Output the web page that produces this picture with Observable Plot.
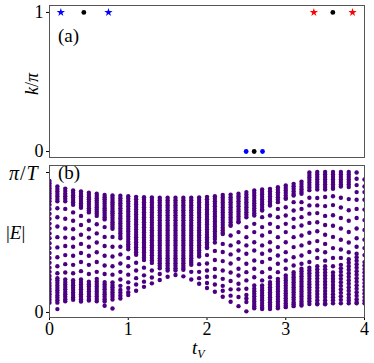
<!DOCTYPE html>
<html><head><meta charset="utf-8">
<script src="https://cdn.jsdelivr.net/npm/d3@7"></script>
<script src="https://cdn.jsdelivr.net/npm/@observablehq/plot@0.6"></script>
<style>
body{margin:0;background:#fff;}
#wrap{position:relative;width:374px;height:363px;font-family:"Liberation Serif",serif;color:#000;}
#wrap svg{position:absolute;left:0;}
#wrap svg text{font-family:"Liberation Serif",serif !important;font-size:18px;}
.lab{position:absolute;white-space:nowrap;line-height:1;font-family:"Liberation Serif",serif;}
.it{font-style:italic;}
</style></head><body><div id="wrap"></div>
<script>
// ---- panel (a): momentum k/pi of special points ----
const starT = [0.144, 0.749, 3.357, 3.848];
const starK = [1, 1, 1, 1];
const starColor = ["#0000ff", "#0000ff", "#ff0000", "#ff0000"];
const dotT = [0.436, 3.598, 2.497, 2.599, 2.705];
const dotK = [1, 1, 0, 0, 0];
const dotColor = ["#000000", "#000000", "#0000ff", "#000000", "#0000ff"];

// ---- panel (b): |E| (units of pi/T) for each t_V column ----
const tV = [0,0.1,0.2,0.3,0.4,0.5,0.6,0.7,0.8,0.9,1.0,1.1,1.2,1.3,1.4,1.5,1.6,1.7,1.8,1.9,2.0,2.1,2.2,2.3,2.4,2.5,2.6,2.7,2.8,2.9,3.0,3.1,3.2,3.3,3.4,3.5,3.6,3.7,3.8,3.9,4.0];
const E00 = [0.94,0.922,0.904,0.886,0.868,0.85,0.832,0.814,0.795,0.77,0.74,0.705,0.67,0.635,0.6,0.565,0.53,0.495,0.46,0.425,0.39,0.355,0.32,0.29,0.26,0.235,0.21,0.19,0.17,0.15,0.13,0.11,0.09,0.07];
const E01 = [0.9,0.882,0.864,0.846,0.828,0.81,0.795,0.745,0.68,0.614,0.538,0.465,0.395,0.33,0.28,0.245,0.228,0.21,0.192,0.175,0.157,0.14,0.122,0.105,0.087,0.07,0.024];
const E02 = [0.885,0.867,0.849,0.831,0.813,0.795,0.74,0.67,0.6,0.535,0.475,0.41,0.345,0.285,0.235,0.217,0.2,0.182,0.165,0.147,0.13,0.112,0.095,0.08];
const E03 = [0.872,0.855,0.838,0.821,0.804,0.787,0.77,0.715,0.655,0.595,0.53,0.47,0.405,0.34,0.28,0.23,0.212,0.195,0.177,0.16,0.142,0.125,0.107,0.09];
const E04 = [0.864,0.847,0.83,0.813,0.796,0.779,0.762,0.748,0.69,0.625,0.555,0.49,0.425,0.36,0.295,0.235,0.217,0.2,0.182,0.165,0.147,0.13,0.112,0.095,0.078];
const E05 = [0.856,0.84,0.824,0.808,0.792,0.776,0.76,0.744,0.728,0.715,0.655,0.595,0.535,0.47,0.405,0.34,0.275,0.22,0.202,0.185,0.167,0.15,0.132,0.115,0.097,0.085];
const E06 = [0.848,0.832,0.816,0.8,0.784,0.768,0.752,0.736,0.72,0.705,0.69,0.63,0.565,0.5,0.43,0.36,0.29,0.24,0.222,0.204,0.186,0.168,0.15,0.132,0.114,0.096,0.08];
const E07 = [0.84,0.824,0.808,0.792,0.776,0.76,0.744,0.728,0.712,0.696,0.68,0.665,0.61,0.54,0.475,0.405,0.335,0.275,0.217,0.2,0.182,0.165,0.147,0.13,0.112,0.095,0.078,0.048];
const E08 = [0.836,0.82,0.804,0.788,0.772,0.756,0.74,0.724,0.708,0.692,0.676,0.66,0.644,0.628,0.612,0.598,0.54,0.47,0.4,0.33,0.27,0.215,0.197,0.18,0.162,0.145,0.127,0.11,0.092,0.028];
const E09 = [0.834,0.816,0.798,0.78,0.762,0.744,0.726,0.708,0.69,0.672,0.654,0.636,0.618,0.6,0.582,0.564,0.546,0.53,0.47,0.415,0.35,0.29,0.235,0.19,0.16,0.14,0.12,0.1];
const E10 = [0.83,0.812,0.794,0.776,0.758,0.74,0.722,0.704,0.686,0.668,0.65,0.632,0.614,0.596,0.578,0.56,0.542,0.524,0.506,0.488,0.47,0.452,0.39,0.33,0.27,0.215,0.175,0.145,0.125];
const E11 = [0.826,0.808,0.79,0.772,0.754,0.736,0.718,0.7,0.682,0.664,0.646,0.628,0.61,0.592,0.574,0.556,0.538,0.52,0.502,0.484,0.466,0.448,0.43,0.412,0.355,0.3,0.245,0.2,0.155];
const E12 = [0.824,0.806,0.788,0.77,0.752,0.734,0.716,0.698,0.68,0.662,0.644,0.626,0.608,0.59,0.572,0.554,0.536,0.518,0.5,0.482,0.464,0.446,0.428,0.41,0.392,0.375,0.32,0.265,0.22,0.183];
const E13 = [0.822,0.804,0.786,0.768,0.75,0.732,0.714,0.696,0.678,0.66,0.642,0.624,0.606,0.588,0.57,0.552,0.534,0.516,0.498,0.48,0.462,0.444,0.426,0.408,0.39,0.372,0.354,0.3,0.25,0.208];
const E14 = [0.82,0.802,0.784,0.766,0.748,0.73,0.712,0.694,0.676,0.658,0.64,0.622,0.604,0.586,0.568,0.55,0.532,0.514,0.496,0.478,0.46,0.442,0.424,0.406,0.388,0.37,0.352,0.334,0.316,0.275,0.232];
const E15 = [0.82,0.802,0.784,0.766,0.748,0.73,0.712,0.694,0.676,0.658,0.64,0.622,0.604,0.586,0.568,0.55,0.532,0.514,0.496,0.478,0.46,0.442,0.424,0.406,0.388,0.37,0.352,0.334,0.316,0.3,0.255];
const E16 = [0.82,0.802,0.784,0.766,0.748,0.73,0.712,0.694,0.676,0.658,0.64,0.622,0.604,0.586,0.568,0.55,0.532,0.514,0.496,0.478,0.46,0.442,0.424,0.406,0.388,0.37,0.352,0.334,0.316,0.3,0.268];
const E17 = [0.82,0.802,0.784,0.766,0.748,0.73,0.712,0.694,0.676,0.658,0.64,0.622,0.604,0.586,0.568,0.55,0.532,0.514,0.496,0.478,0.46,0.442,0.424,0.406,0.388,0.37,0.352,0.334,0.318,0.305,0.258];
const E18 = [0.82,0.802,0.784,0.766,0.748,0.73,0.712,0.694,0.676,0.658,0.64,0.622,0.604,0.586,0.568,0.55,0.532,0.514,0.496,0.478,0.46,0.442,0.424,0.406,0.388,0.37,0.355,0.34,0.29,0.235];
const E19 = [0.822,0.804,0.786,0.768,0.75,0.732,0.714,0.696,0.678,0.66,0.642,0.624,0.606,0.588,0.57,0.552,0.534,0.516,0.498,0.48,0.462,0.444,0.426,0.41,0.4,0.345,0.29,0.245,0.205];
const E20 = [0.826,0.808,0.79,0.772,0.754,0.736,0.718,0.7,0.682,0.664,0.646,0.628,0.61,0.592,0.574,0.556,0.538,0.52,0.502,0.484,0.466,0.46,0.41,0.35,0.3,0.255,0.21,0.175];
const E21 = [0.83,0.812,0.794,0.776,0.758,0.74,0.722,0.704,0.686,0.668,0.65,0.632,0.614,0.596,0.578,0.56,0.542,0.524,0.5,0.44,0.375,0.31,0.255,0.2,0.148];
const E22 = [0.84,0.822,0.804,0.786,0.768,0.75,0.732,0.714,0.696,0.678,0.66,0.642,0.624,0.606,0.588,0.57,0.56,0.49,0.432,0.367,0.3,0.24,0.19,0.155,0.112];
const E23 = [0.842,0.824,0.806,0.788,0.77,0.752,0.734,0.716,0.698,0.68,0.662,0.644,0.626,0.62,0.55,0.479,0.415,0.35,0.285,0.225,0.165,0.12,0.076];
const E24 = [0.848,0.83,0.812,0.794,0.776,0.758,0.74,0.722,0.704,0.686,0.668,0.65,0.645,0.574,0.502,0.443,0.383,0.312,0.264,0.205,0.165,0.11,0.045];
const E25 = [0.86,0.842,0.824,0.806,0.788,0.77,0.752,0.734,0.716,0.698,0.68,0.61,0.538,0.479,0.419,0.348,0.288,0.229,0.169,0.125,0.1,0.075,0.008];
const E26 = [0.871,0.853,0.835,0.817,0.799,0.781,0.763,0.745,0.727,0.709,0.693,0.633,0.574,0.502,0.443,0.371,0.312,0.252,0.193,0.169,0.151,0.133,0.115,0.097,0.079,0.061,0.045,0.03];
const E27 = [0.879,0.861,0.843,0.825,0.807,0.789,0.771,0.753,0.735,0.729,0.681,0.61,0.55,0.479,0.419,0.36,0.288,0.229,0.193,0.175,0.157,0.139,0.121,0.103,0.085,0.067,0.049,0.033,0.025];
const E28 = [0.883,0.865,0.847,0.829,0.811,0.793,0.775,0.764,0.693,0.633,0.574,0.502,0.443,0.383,0.312,0.252,0.217,0.199,0.181,0.163,0.145,0.127,0.109,0.091,0.073,0.055,0.04,0.025];
const E29 = [0.895,0.877,0.859,0.841,0.823,0.805,0.788,0.74,0.681,0.61,0.538,0.467,0.407,0.348,0.288,0.24,0.222,0.204,0.186,0.168,0.15,0.132,0.114,0.096,0.078,0.06,0.045,0.03];
const E30 = [0.907,0.889,0.871,0.853,0.835,0.817,0.812,0.752,0.693,0.633,0.574,0.502,0.431,0.371,0.312,0.264,0.246,0.228,0.21,0.192,0.174,0.156,0.138,0.12,0.102,0.084,0.066,0.05,0.038];
const E31 = [0.919,0.901,0.883,0.865,0.847,0.836,0.788,0.729,0.669,0.61,0.538,0.467,0.395,0.336,0.288,0.27,0.252,0.234,0.216,0.198,0.18,0.162,0.144,0.126,0.108,0.09,0.072,0.058,0.045];
const E32 = [0.935,0.917,0.899,0.881,0.863,0.848,0.788,0.74,0.681,0.621,0.55,0.479,0.407,0.348,0.312,0.294,0.276,0.258,0.24,0.222,0.204,0.186,0.168,0.15,0.132,0.114,0.096,0.078,0.062,0.05];
const E33 = [1.0,0.982,0.964,0.946,0.928,0.91,0.892,0.874,0.82,0.765,0.706,0.64,0.57,0.498,0.432,0.36,0.32,0.3,0.28,0.26,0.24,0.22,0.2,0.18,0.16,0.14,0.12,0.1,0.08,0.06];
const E34 = [1.004,0.986,0.968,0.95,0.932,0.914,0.896,0.878,0.818,0.765,0.71,0.645,0.58,0.51,0.445,0.39,0.33,0.308,0.286,0.264,0.242,0.22,0.198,0.176,0.154,0.132,0.11,0.088,0.066,0.058];
const E35 = [1.004,0.986,0.968,0.95,0.932,0.914,0.896,0.878,0.825,0.76,0.69,0.625,0.555,0.49,0.43,0.37,0.33,0.308,0.286,0.264,0.242,0.22,0.198,0.176,0.154,0.132,0.11,0.088,0.066,0.058];
const E36 = [1.004,0.986,0.968,0.95,0.932,0.914,0.896,0.884,0.83,0.767,0.695,0.62,0.54,0.46,0.39,0.33,0.285,0.263,0.241,0.219,0.197,0.175,0.153,0.131,0.109,0.087,0.065];
const E37 = [1.004,0.986,0.968,0.95,0.932,0.914,0.9,0.82,0.75,0.675,0.6,0.52,0.45,0.39,0.34,0.315,0.29,0.265,0.24,0.215,0.19,0.165,0.14,0.115,0.09,0.065];
const E38 = [1.004,0.986,0.968,0.95,0.932,0.914,0.896,0.81,0.73,0.655,0.575,0.5,0.43,0.38,0.355,0.33,0.305,0.28,0.255,0.23,0.205,0.18,0.155,0.13,0.105,0.085,0.065];
const E39 = [1.0,0.955,0.91,0.86,0.805,0.74,0.675,0.6,0.53,0.47,0.42,0.395,0.37,0.345,0.32,0.295,0.27,0.245,0.22,0.195,0.17,0.145,0.12,0.095,0.075,0.065];
const E40 = [0.95,0.9,0.86,0.805,0.735,0.66,0.59,0.52,0.46,0.41,0.36,0.335,0.31,0.285,0.26,0.235,0.21,0.185,0.16,0.135,0.11,0.085,0.065];
const columns = [E00,E01,E02,E03,E04,E05,E06,E07,E08,E09,E10,E11,E12,E13,E14,E15,E16,E17,E18,E19,E20,E21,E22,E23,E24,E25,E26,E27,E28,E29,E30,E31,E32,E33,E34,E35,E36,E37,E38,E39,E40];

const xTicks = [0, 1, 2, 3, 4];
const kTicks = [0, 1];
const eTicks = [0, 1];

const stars = starT.map((t, i) => ({t, k: starK[i], c: starColor[i]}));
const dots = dotT.map((t, i) => ({t, k: dotK[i], c: dotColor[i]}));
const spec = columns.flatMap((col, i) => col.map(e => ({t: tV[i], E: e})));

const baseStyle = {fontFamily: "Liberation Serif, serif", fontSize: "18px", color: "#000", background: "transparent"};

const plotA = Plot.plot({
  width: 374, height: 160,
  marginTop: 5, marginBottom: 3, marginLeft: 49, marginRight: 10,
  style: baseStyle,
  x: {domain: [0, 4], axis: null},
  y: {domain: [-0.043, 1.05], ticks: kTicks, tickFormat: d => String(d), tickSize: 3, tickPadding: 3, label: null},
  marks: [
    Plot.frame({stroke: "#555", strokeWidth: 1}),
    Plot.dot(stars, {x: "t", y: "k", symbol: "star", fill: "c", r: 2.6, stroke: null}),
    Plot.dot(dots, {x: "t", y: "k", fill: "c", r: 2.4, stroke: null})
  ]
});
plotA.style.top = "0px";

const plotB = Plot.plot({
  width: 374, height: 203,
  marginTop: 5, marginBottom: 46, marginLeft: 49, marginRight: 10,
  style: baseStyle,
  x: {domain: [0, 4], ticks: xTicks, tickFormat: d => String(d), tickSize: 3, tickPadding: 2, label: null},
  y: {domain: [-0.036, 1.05], ticks: eTicks, tickFormat: d => d === 0 ? "0" : "", tickSize: 3, tickPadding: 3, label: null},
  marks: [
    Plot.dot(spec, {x: "t", y: "E", r: 2.2, fill: "#4b0082", stroke: null, clip: true}),
    Plot.frame({stroke: "#555", strokeWidth: 1})
  ]
});
plotB.style.top = "160px";

const wrap = document.getElementById("wrap");
wrap.appendChild(plotA);
wrap.appendChild(plotB);

function label(html, css) {
  const d = document.createElement("div");
  d.className = "lab";
  d.innerHTML = html;
  Object.assign(d.style, css);
  wrap.appendChild(d);
}
label("(a)", {left: "58px", top: "26px", fontSize: "19px"});
label("(b)", {left: "58px", top: "163px", fontSize: "19px"});
label('<span class="it">π</span>/<span class="it">T</span>', {left: "9px", top: "163px", fontSize: "20px", letterSpacing: "1px"});
label('|<span class="it">E</span>|', {left: "6px", top: "223px", fontSize: "19px"});
label('<span class="it">t</span><sub style="font-size:12px;font-style:italic;vertical-align:-4px">V</sub>', {left: "192px", top: "338px", fontSize: "19px"});
label('<span class="it">k</span>/<span class="it">π</span>', {left: "32px", top: "84px", fontSize: "18px", transform: "translate(-50%,-50%) rotate(-90deg)"});
</script></body></html>
